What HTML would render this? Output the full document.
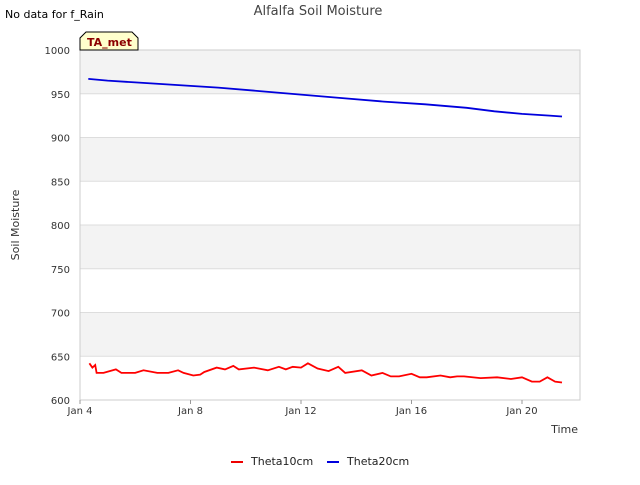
<!DOCTYPE html>
<html><head><meta charset="utf-8"><style>
body{margin:0;background:#fff;font-family:"Liberation Sans","DejaVu Sans",sans-serif;}
svg text{font-family:"DejaVu Sans","Liberation Sans",sans-serif;}
</style></head><body>
<svg id="chart" width="640" height="480" xmlns="http://www.w3.org/2000/svg">
<g id="bands"></g>
<g id="grid"></g>
<rect x="80" y="50" width="500" height="350" fill="none" stroke="#ccc"/>
<g id="yaxis"></g>
<g id="xaxis"></g>
<g id="series"></g>
<text x="318" y="15" font-size="13" fill="#444" text-anchor="middle">Alfalfa Soil Moisture</text>
<text x="5" y="18" font-size="11" fill="#000">No data for f_Rain</text>
<text x="19" y="225" font-size="11" fill="#333" text-anchor="middle" transform="rotate(-90 19 225)">Soil Moisture</text>
<text x="578" y="433" font-size="11" fill="#333" text-anchor="end">Time</text>
<g>
<path d="M80,50 L80,38 L86,32 L132,32 L138,38 L138,50 Z" fill="#ffffcc" stroke="#000" stroke-width="1"/>
<text x="87" y="46" font-size="11" font-weight="bold" fill="#8b0000">TA_met</text>
</g>
<g>
<g><line x1="231" y1="462" x2="243" y2="462" stroke="#e00" stroke-width="2"/><text x="251" y="465" font-size="11" fill="#222">Theta10cm</text></g>
<g><line x1="327" y1="462" x2="339" y2="462" stroke="#00d" stroke-width="2"/><text x="347" y="465" font-size="11" fill="#222">Theta20cm</text></g>
</g>
</svg>
<script>
const xTickLabels=["Jan 4","Jan 8","Jan 12","Jan 16","Jan 20"];
const xTickDays=[4,8,12,16,20];
const yTicks=[600,650,700,750,800,850,900,950,1000];
const theta10Days=[4.34,4.45,4.55,4.6,4.85,5.3,5.5,6.0,6.3,6.8,7.2,7.55,7.75,8.1,8.35,8.5,8.95,9.25,9.55,9.75,10.3,10.8,11.2,11.45,11.7,12.0,12.25,12.6,13.0,13.35,13.6,14.2,14.55,14.95,15.25,15.55,16.0,16.3,16.55,17.05,17.4,17.65,17.9,18.5,19.1,19.6,20.0,20.36,20.64,20.92,21.2,21.45];
const theta10Vals=[642,637,640,631,631,635,631,631,634,631,631,634,631,628,629,632,637,635,639,635,637,634,638,635,638,637,642,636,633,638,631,634,628,631,627,627,630,626,626,628,626,627,627,625,626,624,626,621,621,626,621,620];
const theta20Days=[4.3,5.0,6.0,7.5,9.0,10.5,12.0,13.5,15.0,16.5,18.0,19.0,20.0,21.0,21.45];
const theta20Vals=[967,965,963,960,957,953,949,945,941,938,934,930,927,925,924];
const NS="http://www.w3.org/2000/svg";
const X0=80,X1=580,Y0=400,Y1=50,DMIN=4,DMAX=22.1,VMIN=600,VMAX=1000;
const xs=d=>X0+(d-DMIN)/(DMAX-DMIN)*(X1-X0);
const ys=v=>Y0-(v-VMIN)/(VMAX-VMIN)*(Y0-Y1);
function mk(tag,attrs,parent){const e=document.createElementNS(NS,tag);for(const k in attrs)e.setAttribute(k,attrs[k]);parent.appendChild(e);return e;}
const bands=document.getElementById('bands'),grid=document.getElementById('grid'),ya=document.getElementById('yaxis'),xa=document.getElementById('xaxis'),ser=document.getElementById('series');
for(let i=0;i<yTicks.length-1;i++){
  if(i%2===1){const r=mk('rect',{x:X0,y:ys(yTicks[i+1]),width:X1-X0,height:ys(yTicks[i])-ys(yTicks[i+1]),fill:'#f3f3f3'},bands);
  
  }
}
yTicks.forEach(v=>{
  const l=mk('line',{x1:X0,x2:X1,y1:ys(v),y2:ys(v),stroke:'#ddd'},grid);
  
  
  const t=mk('text',{x:X0-10,y:ys(v)+4,'font-size':10,fill:'#333','text-anchor':'end'},ya);
  
  
  t.textContent=v;
});
xTickDays.forEach((d,i)=>{
  const l=mk('line',{x1:xs(d),x2:xs(d),y1:Y0,y2:Y0+4,stroke:'#999'},xa);
  
  
  const t=mk('text',{x:xs(d),y:Y0+14,'font-size':10,fill:'#333','text-anchor':'middle'},xa);
  
  
  t.textContent=xTickLabels[i];
});
function line(days,vals,color,name){
  const p=mk('polyline',{points:days.map((d,i)=>xs(d).toFixed(1)+','+ys(vals[i]).toFixed(1)).join(' '),fill:'none',stroke:color,'stroke-width':1.8},ser);
  
  
}
line(theta10Days,theta10Vals,'#f00','theta10cm-line');
line(theta20Days,theta20Vals,'#00d','theta20cm-line');
</script>
</body></html>
